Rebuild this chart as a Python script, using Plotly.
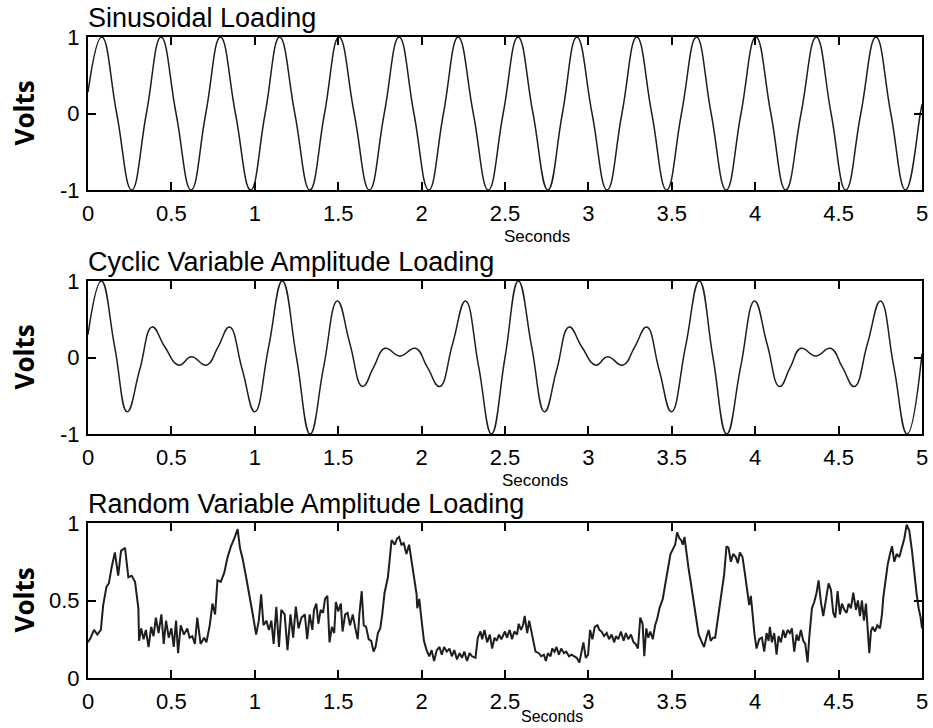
import plotly.graph_objects as go

# ---------------- data ----------------
sine_t = [0.000, 0.082, 0.172, 0.262, 0.350, 0.438, 0.528, 0.618, 0.706, 0.794,
          0.884, 0.975, 1.062, 1.149, 1.240, 1.330, 1.418, 1.505, 1.596, 1.687,
          1.776, 1.865, 1.954, 2.043, 2.131, 2.219, 2.310, 2.400, 2.489, 2.578,
          2.668, 2.757, 2.844, 2.931, 3.022, 3.112, 3.201, 3.290, 3.380, 3.469,
          3.558, 3.648, 3.736, 3.826, 3.915, 4.004, 4.094, 4.183, 4.275, 4.366,
          4.455, 4.543, 4.633, 4.724, 4.813, 4.902, 4.990, 5.000]
sine_v = [0.28, 1, 0, -1, 0, 1, 0, -1, 0, 1,
          0, -1, 0, 1, 0, -1, 0, 1, 0, -1,
          0, 1, 0, -1, 0, 1, 0, -1, 0, 1,
          0, -1, 0, 1, 0, -1, 0, 1, 0, -1,
          0, 1, 0, -1, 0, 1, 0, -1, 0, 1,
          0, -1, 0, 1, 0, -1, 0, 0.12]

cyc_t = [0.000, 0.080, 0.160, 0.235, 0.310, 0.385, 0.460, 0.545, 0.620, 0.710,
         0.780, 0.848, 0.925, 1.000, 1.083, 1.165, 1.250, 1.332, 1.413, 1.495,
         1.570, 1.646, 1.712, 1.780, 1.870, 1.963, 2.035, 2.108, 2.186, 2.263,
         2.342, 2.419, 2.500, 2.580, 2.660, 2.737, 2.810, 2.885, 2.960, 3.045,
         3.114, 3.206, 3.278, 3.349, 3.424, 3.498, 3.582, 3.665, 3.747, 3.829,
         3.913, 3.996, 4.071, 4.146, 4.210, 4.274, 4.363, 4.452, 4.523, 4.594,
         4.673, 4.751, 4.831, 4.911, 5.000]
cyc_v = [0.30, 1.00, 0.14, -0.71, -0.16, 0.40, 0.14, -0.10, 0.01, -0.10,
         0.14, 0.40, -0.16, -0.71, 0.14, 1.00, 0.00, -1.00, -0.12, 0.74,
         0.18, -0.38, -0.13, 0.12, 0.02, 0.12, -0.13, -0.38, 0.18, 0.74,
         -0.12, -1.00, 0.00, 1.00, 0.14, -0.71, -0.16, 0.40, 0.14, -0.10,
         0.01, -0.10, 0.14, 0.40, -0.16, -0.71, 0.14, 1.00, 0.00, -1.00,
         -0.12, 0.74, 0.18, -0.38, -0.13, 0.12, 0.02, 0.12, -0.13, -0.38,
         0.18, 0.74, -0.12, -1.00, 0.05]

rand_t = [0.000, 0.016, 0.036, 0.056, 0.077, 0.091, 0.111, 0.125, 0.141, 0.161,
          0.181, 0.198, 0.222, 0.242, 0.262, 0.282, 0.302, 0.306, 0.319, 0.333,
          0.347, 0.363, 0.379, 0.393, 0.407, 0.423, 0.440, 0.454, 0.468, 0.484,
          0.500, 0.514, 0.528, 0.540, 0.556, 0.575, 0.595, 0.609, 0.625, 0.641,
          0.655, 0.675, 0.696, 0.710, 0.730, 0.746, 0.762, 0.776, 0.796, 0.817,
          0.837, 0.857, 0.877, 0.897, 0.911, 0.927, 0.948, 0.968, 0.988, 1.008,
          1.024, 1.038, 1.052, 1.069, 1.085, 1.099, 1.113, 1.129, 1.145, 1.159,
          1.179, 1.196, 1.214, 1.230, 1.246, 1.262, 1.280, 1.300, 1.314, 1.329,
          1.345, 1.355, 1.369, 1.381, 1.395, 1.409, 1.421, 1.435, 1.448, 1.462,
          1.476, 1.486, 1.500, 1.516, 1.526, 1.542, 1.556, 1.571, 1.587, 1.603,
          1.617, 1.627, 1.641, 1.653, 1.667, 1.683, 1.698, 1.712, 1.724, 1.738,
          1.752, 1.764, 1.778, 1.798, 1.812, 1.820, 1.839, 1.853, 1.865, 1.879,
          1.893, 1.909, 1.925, 1.940, 1.954, 1.970, 1.974, 1.986, 2.000, 2.014,
          2.030, 2.046, 2.060, 2.075, 2.091, 2.107, 2.121, 2.135, 2.151, 2.167,
          2.181, 2.196, 2.212, 2.228, 2.242, 2.256, 2.272, 2.288, 2.302, 2.323,
          2.337, 2.353, 2.363, 2.377, 2.393, 2.409, 2.423, 2.437, 2.450, 2.464,
          2.478, 2.500, 2.512, 2.528, 2.542, 2.556, 2.572, 2.582, 2.596, 2.608,
          2.618, 2.633, 2.645, 2.657, 2.669, 2.683, 2.703, 2.717, 2.733, 2.745,
          2.757, 2.773, 2.783, 2.797, 2.809, 2.823, 2.837, 2.853, 2.867, 2.884,
          2.898, 2.914, 2.930, 2.946, 2.958, 2.970, 2.984, 2.998, 3.010, 3.024,
          3.038, 3.054, 3.066, 3.078, 3.094, 3.110, 3.124, 3.139, 3.155, 3.165,
          3.179, 3.195, 3.211, 3.225, 3.239, 3.255, 3.271, 3.283, 3.297, 3.311,
          3.325, 3.335, 3.347, 3.359, 3.371, 3.386, 3.400, 3.412, 3.426, 3.446,
          3.460, 3.476, 3.492, 3.506, 3.520, 3.532, 3.546, 3.556, 3.566, 3.576,
          3.586, 3.600, 3.616, 3.632, 3.647, 3.661, 3.677, 3.693, 3.707, 3.721,
          3.733, 3.747, 3.760, 3.774, 3.788, 3.800, 3.814, 3.828, 3.840, 3.854,
          3.868, 3.884, 3.896, 3.908, 3.924, 3.940, 3.954, 3.964, 3.974, 3.984,
          3.996, 4.008, 4.024, 4.040, 4.054, 4.068, 4.080, 4.088, 4.100, 4.114,
          4.128, 4.140, 4.154, 4.168, 4.180, 4.194, 4.208, 4.220, 4.234, 4.248,
          4.260, 4.274, 4.288, 4.300, 4.314, 4.324, 4.340, 4.354, 4.368, 4.380,
          4.394, 4.408, 4.424, 4.440, 4.454, 4.468, 4.480, 4.494, 4.508, 4.520,
          4.534, 4.548, 4.560, 4.574, 4.588, 4.604, 4.616, 4.628, 4.640, 4.652,
          4.664, 4.674, 4.684, 4.694, 4.704, 4.718, 4.732, 4.748, 4.760, 4.768,
          4.780, 4.794, 4.808, 4.820, 4.834, 4.848, 4.864, 4.880, 4.894, 4.908,
          4.924, 4.940, 4.956, 4.968, 4.980, 4.992, 5.000]
rand_v = [0.23, 0.26, 0.31, 0.28, 0.31, 0.47, 0.59, 0.61, 0.71, 0.81,
          0.66, 0.82, 0.84, 0.65, 0.66, 0.62, 0.45, 0.24, 0.32, 0.25,
          0.31, 0.20, 0.33, 0.27, 0.39, 0.29, 0.41, 0.22, 0.37, 0.26,
          0.32, 0.20, 0.37, 0.16, 0.34, 0.28, 0.32, 0.26, 0.27, 0.22,
          0.39, 0.22, 0.26, 0.23, 0.34, 0.48, 0.41, 0.63, 0.62, 0.68,
          0.78, 0.85, 0.90, 0.96, 0.84, 0.77, 0.65, 0.54, 0.41, 0.28,
          0.37, 0.54, 0.34, 0.37, 0.31, 0.37, 0.22, 0.46, 0.20, 0.44,
          0.41, 0.18, 0.41, 0.26, 0.46, 0.32, 0.39, 0.41, 0.25, 0.41,
          0.31, 0.44, 0.48, 0.35, 0.44, 0.42, 0.51, 0.53, 0.23, 0.33,
          0.29, 0.49, 0.43, 0.48, 0.30, 0.41, 0.42, 0.34, 0.41, 0.32,
          0.25, 0.41, 0.56, 0.34, 0.33, 0.25, 0.24, 0.17, 0.20, 0.29,
          0.32, 0.41, 0.55, 0.65, 0.80, 0.89, 0.86, 0.90, 0.91, 0.86,
          0.87, 0.80, 0.86, 0.76, 0.66, 0.54, 0.45, 0.51, 0.37, 0.24,
          0.18, 0.14, 0.18, 0.11, 0.18, 0.20, 0.15, 0.20, 0.17, 0.19,
          0.14, 0.18, 0.12, 0.16, 0.13, 0.17, 0.11, 0.16, 0.14, 0.13,
          0.26, 0.30, 0.25, 0.31, 0.23, 0.28, 0.19, 0.26, 0.24, 0.28,
          0.25, 0.30, 0.26, 0.31, 0.25, 0.30, 0.28, 0.35, 0.31, 0.34,
          0.40, 0.29, 0.37, 0.31, 0.24, 0.17, 0.16, 0.14, 0.15, 0.11,
          0.16, 0.14, 0.19, 0.17, 0.20, 0.15, 0.19, 0.16, 0.17, 0.14,
          0.15, 0.14, 0.13, 0.10, 0.17, 0.23, 0.13, 0.15, 0.31, 0.25,
          0.33, 0.34, 0.31, 0.30, 0.27, 0.29, 0.25, 0.28, 0.23, 0.27,
          0.25, 0.30, 0.24, 0.29, 0.25, 0.28, 0.23, 0.22, 0.19, 0.39,
          0.35, 0.14, 0.32, 0.26, 0.30, 0.25, 0.34, 0.38, 0.45, 0.51,
          0.60, 0.69, 0.80, 0.83, 0.86, 0.94, 0.90, 0.89, 0.86, 0.91,
          0.82, 0.71, 0.60, 0.49, 0.37, 0.28, 0.24, 0.20, 0.26, 0.31,
          0.24, 0.26, 0.26, 0.37, 0.45, 0.54, 0.67, 0.85, 0.84, 0.75,
          0.80, 0.78, 0.74, 0.81, 0.78, 0.66, 0.56, 0.47, 0.53, 0.41,
          0.28, 0.19, 0.25, 0.26, 0.17, 0.29, 0.24, 0.33, 0.23, 0.29,
          0.15, 0.27, 0.23, 0.31, 0.26, 0.31, 0.29, 0.32, 0.17, 0.28,
          0.24, 0.31, 0.24, 0.22, 0.10, 0.26, 0.45, 0.49, 0.55, 0.63,
          0.49, 0.40, 0.52, 0.61, 0.57, 0.42, 0.39, 0.56, 0.41, 0.48,
          0.44, 0.42, 0.48, 0.45, 0.55, 0.44, 0.50, 0.40, 0.50, 0.37,
          0.48, 0.34, 0.16, 0.30, 0.33, 0.30, 0.34, 0.32, 0.41, 0.52,
          0.62, 0.73, 0.80, 0.85, 0.75, 0.80, 0.78, 0.84, 0.90, 0.99,
          0.95, 0.82, 0.65, 0.54, 0.45, 0.39, 0.32]

x_tickvals = [0, 0.5, 1, 1.5, 2, 2.5, 3, 3.5, 4, 4.5, 5]
x_ticktext = ["0", "0.5", "1", "1.5", "2", "2.5", "3", "3.5", "4", "4.5", "5"]
y_sym_tickvals = [-1, 0, 1]
y_sym_ticktext = ["-1", "0", "1"]
y_pos_tickvals = [0, 0.5, 1]
y_pos_ticktext = ["0", "0.5", "1"]

panel_titles = ["Sinusoidal Loading", "Cyclic Variable Amplitude Loading",
                "Random Variable Amplitude Loading"]
x_label = "Seconds"
y_label = "Volts"

# ---------------- layout geometry (window pixels) ----------------
W, H = 933, 728
LEFT, RIGHT = 88, 922                        # plot box
boxes = [(37, 190), (281, 434), (523, 678)]  # top, bottom of each panel
sec_pos = [(537, 236), (535, 480), (552, 716)]  # centre of each "Seconds" label
sec_size = [17, 17, 16]
ML = LEFT
MR = W - RIGHT
MT = boxes[0][0]
MB = H - boxes[2][1]
PH = H - MT - MB
PW = W - ML - MR


def py(y):
    return (H - MB - y) / PH


def px(x):
    return (x - ML) / PW


TICK_FONT = dict(family="Liberation Sans, Arial", size=22, color="black")
TITLE_FONT = dict(family="Liberation Sans, Arial", size=27, color="black")
VOLT_FONT = dict(family="Open Sans, DejaVu Sans", size=26, color="black", weight="bold")

series = [(sine_t, sine_v, 1.5, "spline"),
          (cyc_t, cyc_v, 1.5, "spline"),
          (rand_t, rand_v, 2.0, "linear")]

fig = go.Figure()
for i, (t, v, lw, shape) in enumerate(series):
    k = "" if i == 0 else str(i + 1)
    line = dict(color="#1e1e1e", width=lw, shape=shape)
    if shape == "spline":
        line["smoothing"] = 1.3
    fig.add_trace(go.Scatter(x=t, y=v, mode="lines", line=line,
                             xaxis="x" + k, yaxis="y" + k,
                             showlegend=False, hoverinfo="skip"))

axis_common = dict(showgrid=False, zeroline=False, showline=True, linecolor="black",
                   linewidth=2, mirror="ticks", ticks="inside", ticklen=8,
                   tickwidth=1.5, tickcolor="black", tickfont=TICK_FONT,
                   automargin=False)

layout = dict(width=W, height=H, margin=dict(l=ML, r=MR, t=MT, b=MB, autoexpand=False),
              plot_bgcolor="white", paper_bgcolor="white", showlegend=False)
annotations = []
for i, (top, bot) in enumerate(boxes):
    k = "" if i == 0 else str(i + 1)
    yt, yl = (y_pos_tickvals, y_pos_ticktext) if i == 2 else (y_sym_tickvals, y_sym_ticktext)
    yr = [0, 1] if i == 2 else [-1, 1]
    layout["xaxis" + k] = dict(axis_common, domain=[0, 1], range=[0, 5],
                               tickvals=x_tickvals, ticktext=x_ticktext,
                               anchor="y" + k, ticklabelstandoff=3)
    layout["yaxis" + k] = dict(axis_common, domain=[py(bot), py(top)], range=yr,
                               tickvals=yt, ticktext=yl, anchor="x" + k,
                               ticklabelstandoff=2)
    annotations.append(dict(text=panel_titles[i], xref="paper", yref="paper",
                            x=px(86), y=py(top - 19), xanchor="left", yanchor="middle",
                            showarrow=False, font=TITLE_FONT))
    sx, sy = sec_pos[i]
    annotations.append(dict(text=x_label, xref="paper", yref="paper",
                            x=px(sx), y=py(sy), xanchor="center", yanchor="middle",
                            showarrow=False, borderpad=0,
                            font=dict(family="Liberation Sans, Arial", size=sec_size[i],
                                      color="black")))
    annotations.append(dict(text=y_label, xref="paper", yref="paper",
                            x=px(23), y=py((top + bot) / 2), xanchor="center",
                            yanchor="middle", textangle=-90,
                            showarrow=False, font=VOLT_FONT))
layout["annotations"] = annotations
fig.update_layout(**layout)
# remove the browser's default 8 px body margin so the figure fills the window
fig.write_html("out.html", config={"displayModeBar": False},
               post_script="document.body.style.margin='0';")
